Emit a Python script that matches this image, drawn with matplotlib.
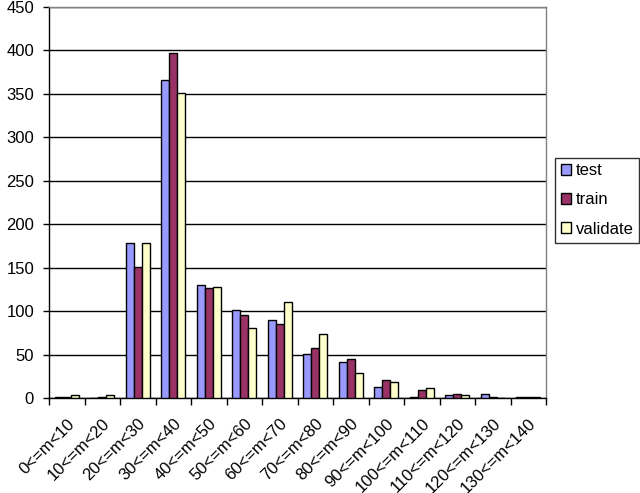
import matplotlib
matplotlib.use("Agg")
import matplotlib.pyplot as plt
import matplotlib.transforms as mtransforms
import numpy as np

plt.rcParams['font.family'] = ['Liberation Sans', 'DejaVu Sans']

categories = ["0<=m<10", "10<=m<20", "20<=m<30", "30<=m<40", "40<=m<50",
              "50<=m<60", "60<=m<70", "70<=m<80", "80<=m<90", "90<=m<100",
              "100<=m<110", "110<=m<120", "120<=m<130", "130<=m<140"]
test = [1, 0, 178, 366, 130, 101, 90, 51, 42, 13, 1, 4, 5, 1]
train = [1, 1, 151, 397, 127, 95, 85, 57, 45, 21, 9, 5, 1.5, 1]
validate = [4, 3, 178, 351, 128, 80, 110, 74, 29, 18, 12, 4, 0, 1]
series_names = ["test", "train", "validate"]
colors = ["#9999FF", "#993366", "#FFFFCC"]

fig = plt.figure(figsize=(6.4, 4.93), dpi=100)
ax = fig.add_axes([49/640, 1-398/493, (546-49)/640, (398-7)/493])

x = np.arange(len(categories))
w = 1/4.5
for i, (vals, name, c) in enumerate(zip([test, train, validate], series_names, colors)):
    ax.bar(x + (i-1)*w, vals, width=w, color=c, edgecolor='black', linewidth=1.0,
           label=name, zorder=3)

ax.set_xlim(-0.5, len(categories)-0.5)
ax.set_ylim(0, 450)
ax.set_yticks(np.arange(0, 451, 50))
ax.yaxis.grid(True, color='black', linewidth=1.0, zorder=0)
ax.set_axisbelow(True)

ax.set_xticks(np.arange(-0.5, len(categories), 1.0), minor=False)
ax.set_xticklabels([])
ax.set_xticks(x, minor=True)
labels = ax.set_xticklabels(categories, minor=True, rotation=45, ha='right',
                            rotation_mode='anchor', fontsize=12)
offset = mtransforms.ScaledTranslation(-8/100, 0, fig.dpi_scale_trans)
for lab in labels:
    lab.set_transform(lab.get_transform() + offset)
ax.tick_params(axis='x', which='minor', length=0, pad=13)
ax.tick_params(axis='x', which='major', length=5, width=1, direction='out', color='black')
ax.tick_params(axis='y', length=4.3, width=1, direction='out', labelsize=12, pad=6.5)

for s in ['left', 'bottom']:
    ax.spines[s].set_color('black')
    ax.spines[s].set_linewidth(1.0)
for s in ['top', 'right']:
    ax.spines[s].set_color('#808080')
    ax.spines[s].set_linewidth(1.0)

leg = fig.legend(loc='center', bbox_to_anchor=(597/640, 1-200/493), fontsize=12,
                 frameon=True, fancybox=False, edgecolor='black', handlelength=0.6,
                 handleheight=0.6, handletextpad=0.3, labelspacing=0.85, borderpad=0.35,
                 borderaxespad=0)
leg.get_frame().set_linewidth(1.0)

fig.savefig("out.png", dpi=100)
